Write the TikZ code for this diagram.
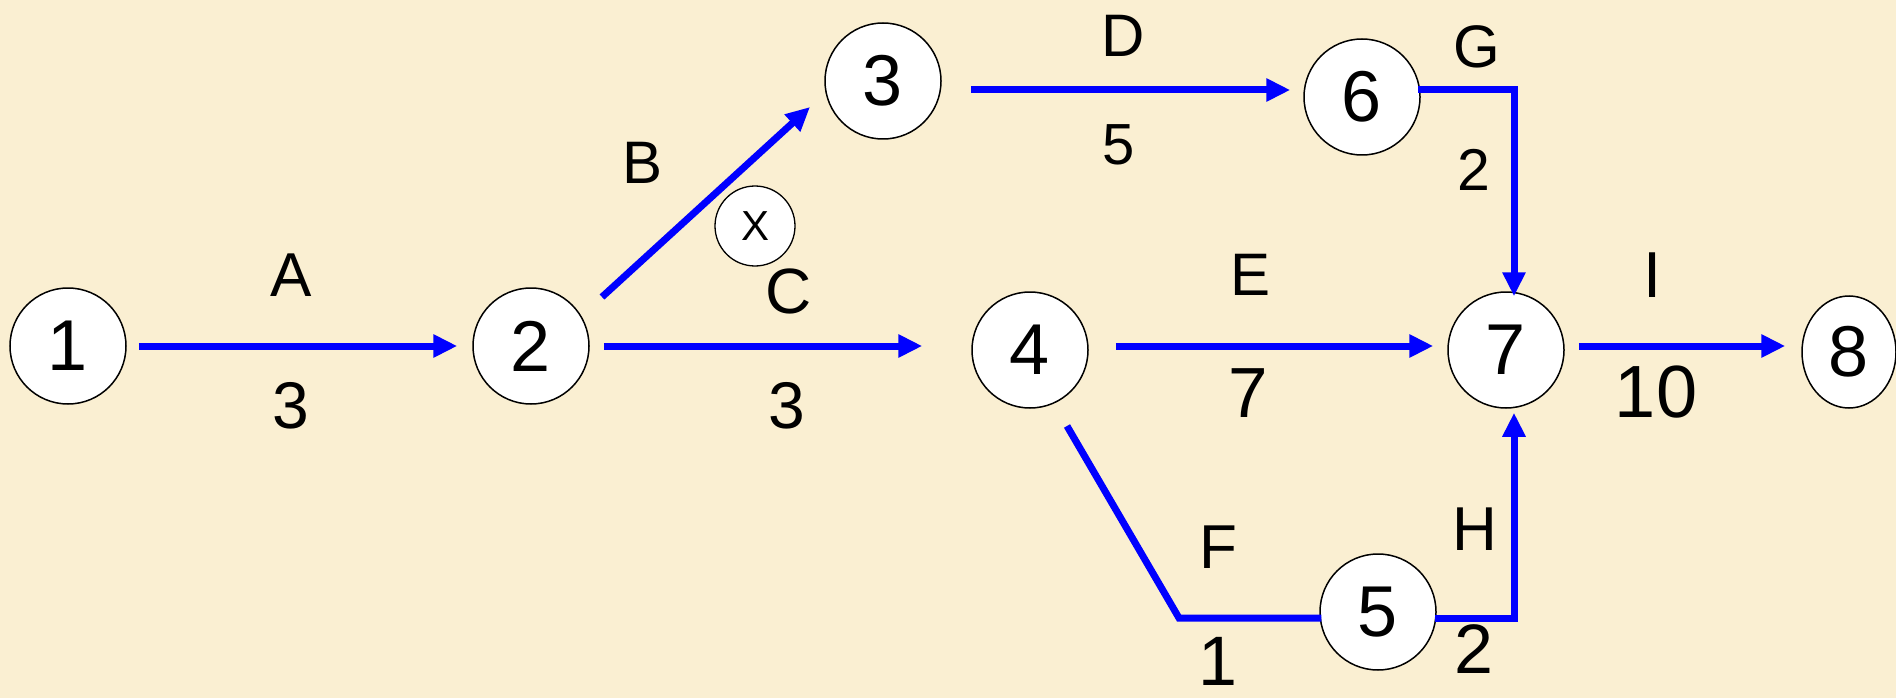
\documentclass[tikz,border=0pt]{standalone}
\usepackage{fontspec}
\setmainfont{Liberation Sans}
\usetikzlibrary{arrows.meta,calc,shapes.geometric}
\definecolor{bgbeige}{RGB}{250,239,210}
\definecolor{netblue}{RGB}{0,0,255}
\tikzset{
  event/.style={circle,draw=black,line width=1.5pt,fill=white,minimum size=116pt,inner sep=0pt,font=\fontsize{72}{72}\selectfont},
  smallev/.style={circle,draw=black,line width=1.3pt,fill=white,minimum size=80pt,inner sep=0pt,font=\fontsize{42}{42}\selectfont},
  lab/.style={inner sep=0pt,font=\fontsize{#1}{#1}\selectfont},
  lab/.default=62,
  act/.style={draw=netblue,line width=7pt},
  arr/.style={act,-{Triangle[length=24pt,width=22pt]}}
}
\begin{document}
\begin{tikzpicture}[x=1pt,y=-1pt]
\fill[bgbeige] (0,0) rectangle (1896,698);
\useasboundingbox (0,0) rectangle (1896,698);
% events
\node[event] (n1) at (68,346) {1};
\node[event] (n2) at (531,346) {2};
\node[event] (n3) at (883,81) {3};
\node[smallev] (nx) at (755,226) {X};
\node[event] (n4) at (1030,350) {4};
\node[event] (n5) at (1378,612) {5};
\node[event] (n6) at (1362,97) {6};
\node[event] (n7) at (1506,350) {7};
\node[ellipse,draw=black,line width=1.5pt,fill=white,minimum width=94pt,minimum height=112pt,inner sep=0pt,font=\fontsize{72}{72}\selectfont] (n8) at (1849,352) {8};
% activities
\draw[arr] ($(n1.east)+(12,0)$) -- ($(n2.west)+(-15,0)$);
\draw[arr] ($(n2)+(71,-49)$) -- ($(n3)+(-73,26)$);
\draw[arr] ($(n2.east)+(14,0)$) -- ($(n4.west |- n2.east)+(-49,0)$);
\draw[arr] ($(n3.east)+(29,9)$) -- ($(n6.west)+(-13,-7)$);
\draw[arr] ($(n6.east)+(-3,-7)$) -| ($(n7.north)+(8,5)$);
\draw[arr] ($(n4.east)+(27,-4)$) -- ($(n7.west)+(-14,-4)$);
\draw[arr] ($(n7.east)+(14,-4)$) -- ($(n8.west |- n7.east)+(-16,-4)$);
\draw[act] ($(n4)+(37,76)$) -- ++(112,192) -- ($(n5.west)+(2,6)$);
\draw[arr] ($(n5.east)+(-2,6)$) -| ($(n7.south)+(8,4)$);
% labels
\node[lab] (la) at (291,275) {A};
\node[lab=66] (la3) at (291,406) {3};
\node[lab=60] (lb) at (643,163) {B};
\node[lab=64] (lc) at (789,291) {C};
\node[lab=66] (lc3) at (787,406) {3};
\node[lab=60] (ld) at (1123,36) {D};
\node[lab=58] (ld5) at (1119,145) {5};
\node[lab=60] (lg) at (1477,47) {G};
\node[lab=59] (lg2) at (1474,170) {2};
\node[lab=60] (le) at (1250,275) {E};
\node[lab=71] (le7) at (1248,393) {7};
\node[lab=65] (li) at (1653,275) {I};
\node[lab=74] (li10) at (1656,392) {10};
\node[lab] (lf) at (1218,547) {F};
\node[lab=70] (lf1) at (1218,661) {1};
\node[lab] (lh) at (1475,529) {H};
\node[lab=70] (lh2) at (1474,649) {2};
\end{tikzpicture}
\end{document}
